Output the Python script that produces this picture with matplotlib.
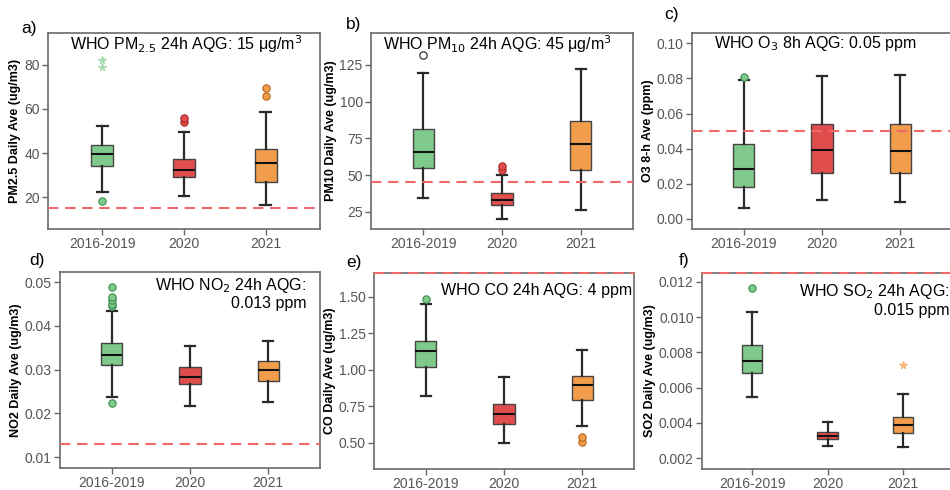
import matplotlib
matplotlib.use('Agg')
import matplotlib.pyplot as plt
from matplotlib.ticker import FormatStrFormatter

plt.rcParams['font.family'] = ['Liberation Sans', 'DejaVu Sans']

categories = ['2016-2019', '2020', '2021']
colors = ['#7fc98b', '#e04d4d', '#f19d4c']
edge_colors = ['#3f8f4f', '#a82a2a', '#b8661f']
star_colors = ['#a8dcb0', '#ee9090', '#f5b87c']

# PM2.5 (ug/m3)
pm25_low = [22.5, 20.5, 16.5]
pm25_q1 = [34.0, 29.0, 27.0]
pm25_med = [39.5, 32.5, 35.5]
pm25_q3 = [43.5, 37.5, 42.0]
pm25_high = [52.3, 49.7, 58.5]
pm25_out = [[18.2], [54.0, 56.0], [66.0, 69.5]]
pm25_open = [[], [], []]
pm25_extreme = [[79.0, 82.3], [], []]

# PM10 (ug/m3)
pm10_low = [34.5, 20.3, 26.2]
pm10_q1 = [54.8, 29.5, 53.6]
pm10_med = [65.7, 32.8, 71.1]
pm10_q3 = [81.6, 37.5, 87.0]
pm10_high = [119.3, 50.0, 122.0]
pm10_out = [[], [53.5, 56.3], []]
pm10_open = [[131.8], [], []]
pm10_extreme = [[], [], []]

# O3 8-h (ppm)
o3_low = [0.0061, 0.0107, 0.0095]
o3_q1 = [0.0183, 0.0260, 0.0260]
o3_med = [0.0287, 0.0390, 0.0385]
o3_q3 = [0.0425, 0.0539, 0.0539]
o3_high = [0.0790, 0.0815, 0.0820]
o3_out = [[0.0806], [], []]
o3_open = [[], [], []]
o3_extreme = [[], [], []]

# NO2
no2_low = [0.0238, 0.0217, 0.0227]
no2_q1 = [0.0310, 0.0267, 0.0274]
no2_med = [0.0334, 0.0282, 0.0299]
no2_q3 = [0.0360, 0.0307, 0.0320]
no2_high = [0.0433, 0.0353, 0.0366]
no2_out = [[0.0224, 0.0445, 0.0450, 0.0458, 0.0466, 0.0488], [], []]
no2_open = [[], [], []]
no2_extreme = [[], [], []]

# CO
co_low = [0.817, 0.498, 0.614]
co_q1 = [1.016, 0.630, 0.795]
co_med = [1.125, 0.698, 0.893]
co_q3 = [1.197, 0.766, 0.957]
co_high = [1.448, 0.950, 1.137]
co_out = [[1.482], [], [0.507, 0.540]]
co_open = [[], [], []]
co_extreme = [[], [], []]

# SO2
so2_low = [0.00549, 0.00266, 0.00261]
so2_q1 = [0.00684, 0.00308, 0.00344]
so2_med = [0.00748, 0.00326, 0.00385]
so2_q3 = [0.00842, 0.00349, 0.00434]
so2_high = [0.01030, 0.00402, 0.00561]
so2_out = [[0.01163], [], []]
so2_open = [[], [], []]
so2_extreme = [[], [], [0.00726]]

# WHO guideline values
who_limits = [15, 45, 0.05, 0.013, 4, 0.015]

panels = [
    dict(letter='a)', ylabel='PM2.5 Daily Ave (ug/m3)', low=pm25_low, q1=pm25_q1, med=pm25_med,
         q3=pm25_q3, high=pm25_high, out=pm25_out, open=pm25_open, extreme=pm25_extreme,
         limit=who_limits[0], note='WHO PM$_{2.5}$ 24h AQG: 15 μg/m$^3$',
         ylim=(5.5, 94.5), yticks=[20, 40, 60, 80], fmt='%d'),
    dict(letter='b)', ylabel='PM10 Daily Ave (ug/m3)', low=pm10_low, q1=pm10_q1, med=pm10_med,
         q3=pm10_q3, high=pm10_high, out=pm10_out, open=pm10_open, extreme=pm10_extreme,
         limit=who_limits[1], note='WHO PM$_{10}$ 24h AQG: 45 μg/m$^3$',
         ylim=(13.2, 146.8), yticks=[25, 50, 75, 100, 125], fmt='%d'),
    dict(letter='c)', ylabel='O3 8-h Ave (ppm)', low=o3_low, q1=o3_q1, med=o3_med,
         q3=o3_q3, high=o3_high, out=o3_out, open=o3_open, extreme=o3_extreme,
         limit=who_limits[2], note='WHO O$_3$ 8h AQG: 0.05 ppm',
         ylim=(-0.0057, 0.1059), yticks=[0, 0.02, 0.04, 0.06, 0.08, 0.10], fmt='%.2f'),
    dict(letter='d)', ylabel='NO2 Daily Ave (ug/m3)', low=no2_low, q1=no2_q1, med=no2_med,
         q3=no2_q3, high=no2_high, out=no2_out, open=no2_open, extreme=no2_extreme,
         limit=who_limits[3], note='WHO NO$_2$ 24h AQG:\n0.013 ppm',
         ylim=(0.0075, 0.0523), yticks=[0.01, 0.02, 0.03, 0.04, 0.05], fmt='%.2f'),
    dict(letter='e)', ylabel='CO Daily Ave (ug/m3)', low=co_low, q1=co_q1, med=co_med,
         q3=co_q3, high=co_high, out=co_out, open=co_open, extreme=co_extreme,
         limit=who_limits[4], note='WHO CO 24h AQG: 4 ppm',
         ylim=(0.32, 1.662), yticks=[0.5, 0.75, 1.0, 1.25, 1.5], fmt='%.2f'),
    dict(letter='f)', ylabel='SO2 Daily Ave (ug/m3)', low=so2_low, q1=so2_q1, med=so2_med,
         q3=so2_q3, high=so2_high, out=so2_out, open=so2_open, extreme=so2_extreme,
         limit=who_limits[5], note='WHO SO$_2$ 24h AQG:\n0.015 ppm',
         ylim=(0.00138, 0.0125), yticks=[0.002, 0.004, 0.006, 0.008, 0.010, 0.012], fmt='%.3f'),
]

# axes rectangles in pixels (left, right, top, bottom) and panel letter positions
W, H = 950, 490
rects = [(48, 320, 33, 229), (371, 633, 33, 229), (692, 952, 33, 229),
         (60, 320, 272, 468), (374, 634, 273, 469), (702, 953, 273, 469)]
letter_pos = [(21, 28), (346, 25), (664, 15), (29, 261), (346, 263), (679, 260)]
note_pos = [(0.081, 0.945, 'left'), (0.047, 0.945, 'left'), (0.085, 0.945, 'left'),
            (0.949, 0.89, 'right'), (0.992, 0.913, 'right'), (0.988, 0.862, 'right')]

fig = plt.figure(figsize=(9.5, 4.9), dpi=100)
positions = [1, 2, 3]

for i, p in enumerate(panels):
    l, r, t, b = rects[i]
    ax = fig.add_axes([l / W, 1 - b / H, (r - l) / W, (b - t) / H])

    stats = []
    for k in range(3):
        stats.append(dict(whislo=p['low'][k], q1=p['q1'][k], med=p['med'][k],
                          q3=p['q3'][k], whishi=p['high'][k], fliers=[]))
    bp = ax.bxp(stats, positions=positions, widths=0.27, capwidths=0.13,
                patch_artist=True, showfliers=False,
                boxprops=dict(edgecolor='#454545', linewidth=1.0),
                medianprops=dict(color='#111111', linewidth=1.5),
                whiskerprops=dict(color='#2a2a2a', linewidth=1.6),
                capprops=dict(color='#2a2a2a', linewidth=1.6))
    for box, c in zip(bp['boxes'], colors):
        box.set_facecolor(c)

    # outliers
    for k in range(3):
        if p['out'][k]:
            ax.plot([positions[k]] * len(p['out'][k]), p['out'][k], 'o', ms=5.3,
                    mfc=colors[k], mec=edge_colors[k], mew=0.8, zorder=4)
        if p['open'][k]:
            ax.plot([positions[k]] * len(p['open'][k]), p['open'][k], 'o', ms=5.3,
                    mfc='white', mec='#333333', mew=0.9, zorder=4)
        if p['extreme'][k]:
            ax.plot([positions[k]] * len(p['extreme'][k]), p['extreme'][k], '*', ms=5.5,
                    color=star_colors[k], zorder=4)

    ax.set_xlim(0.335, 3.665)
    ax.set_ylim(*p['ylim'])

    # WHO guideline line (drawn at the top edge when off the scale)
    y_line = min(p['limit'], p['ylim'][1])
    ax.axhline(y_line, color='#f06868', lw=1.5, dashes=(5, 3.2), zorder=6, clip_on=False)

    ax.set_xticks(positions)
    ax.set_xticklabels(categories)
    ax.set_yticks(p['yticks'])
    ax.yaxis.set_major_formatter(FormatStrFormatter(p['fmt']))
    ax.tick_params(direction='out', length=4, width=1.0, color='#666666',
                   labelcolor='#555555', labelsize=10, pad=2)
    for s in ax.spines.values():
        s.set_color('#6a6a6a')
        s.set_linewidth(1.2)
    ax.set_ylabel(p['ylabel'], fontsize=9, fontweight='bold', labelpad=2)

    nx, ny, ha = note_pos[i]
    ax.text(nx, ny, p['note'], transform=ax.transAxes, ha=ha, va='center',
            multialignment='right', fontsize=11.5, linespacing=1.15, zorder=7)

    lx, ly = letter_pos[i]
    fig.text(lx / W, 1 - ly / H, p['letter'], fontsize=12.5, ha='left', va='center')

fig.savefig('out.png', dpi=100)
